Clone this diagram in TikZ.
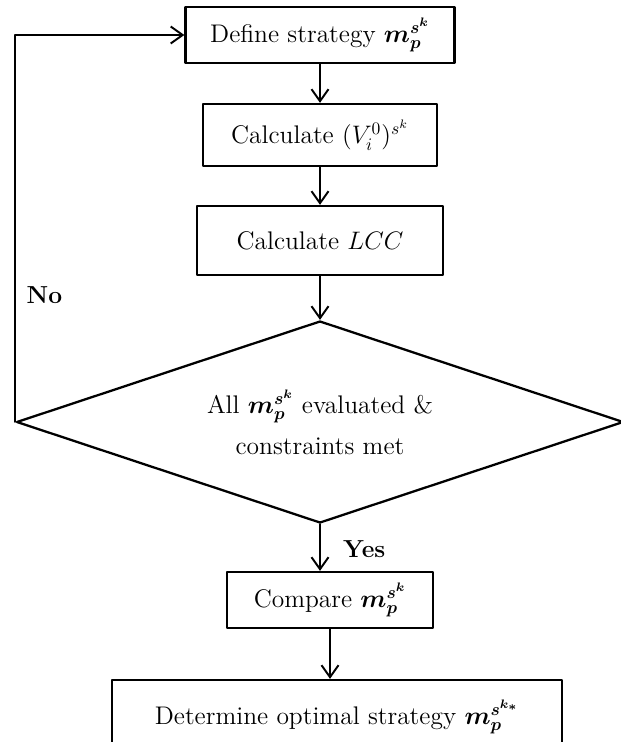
\documentclass[tikz,border=0pt]{standalone}
\usepackage{bm}
\usetikzlibrary{arrows.meta,shapes.geometric}

\begin{document}
\begin{tikzpicture}[x=1cm,y=1cm,>={Straight Barb[length=2.4mm,width=3.4mm]},line cap=round,line join=round,
  stepbox/.style={draw,line width=1.3pt,inner sep=2pt,font=\fontsize{14.5}{17}\selectfont},
  flow/.style={->,line width=1.1pt}]
\useasboundingbox (0,0) rectangle (12.42,-14.84);
\coordinate (d) at (6.40,-0.70);
\coordinate (v) at (6.40,-2.70);
\coordinate (l) at (6.40,-4.81);
\coordinate (c) at (6.40,-8.44);
\coordinate (k) at (6.60,-12.00);
\coordinate (o) at (6.74,-14.34);
\node[stepbox,minimum width=5.38cm,minimum height=1.12cm] (define) at (d) {Define strategy $\bm{m_p^{s^k}}$};
\node[stepbox,minimum width=4.68cm,minimum height=1.24cm] (calcv) at (v) {Calculate $(V_i^0)^{s^k}$};
\node[stepbox,minimum width=4.92cm,minimum height=1.38cm] (calclcc) at (l) {Calculate $LCC$};
\node[diamond,aspect=3,draw,line width=1.3pt,minimum width=12.14cm,minimum height=4.04cm,inner sep=0pt,align=center,font=\fontsize{14.5}{23}\selectfont] (check) at (c) {All $\bm{m_p^{s^k}}$ evaluated \&\\constraints met};
\node[stepbox,minimum width=4.12cm,minimum height=1.12cm] (compare) at (k) {Compare $\bm{m_p^{s^k}}$};
\node[stepbox,minimum width=9.0cm,minimum height=1.48cm] (optimal) at (o) {Determine optimal strategy $\bm{m_p^{s^{k_*}}}$};
\draw[flow] (define) -- (calcv);
\draw[flow] (calcv) -- (calclcc);
\draw[flow] (calclcc) -- (check);
\draw[flow] (check.south) -- (check.south |- compare.north);
\draw[flow] (compare.south) -- (compare.south |- optimal.north);
\draw[flow] (check.west) -- (check.west |- define.west) -- (define.west);
\node[anchor=west,font=\fontsize{14}{16}\selectfont\bfseries] (yes) at (6.74,-10.98) {Yes};
\node[font=\fontsize{14}{16}\selectfont\bfseries] (no) at (0.89,-5.90) {No};
\end{tikzpicture}
\end{document}
